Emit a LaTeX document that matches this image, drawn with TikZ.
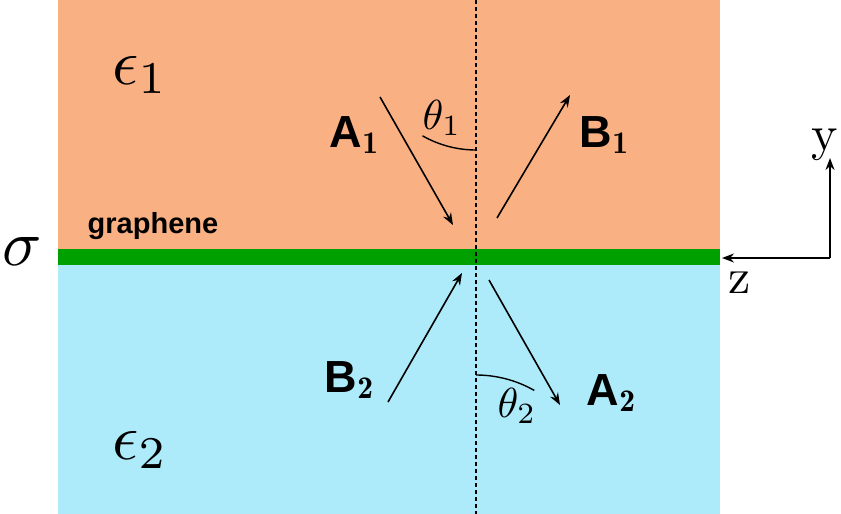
\documentclass[tikz,border=0pt]{standalone}
\usepackage{fontspec}
\usepackage{graphicx}
\newfontfamily\lab{Liberation Sans}
\usetikzlibrary{arrows.meta}
\definecolor{orng}{HTML}{F9B083}
\definecolor{lblue}{HTML}{ADEBFA}
\definecolor{grn}{HTML}{00A000}
\tikzset{ray/.style={line width=1.6pt,-{Stealth[length=12pt,width=9pt]}},
 lbl/.style={font=\lab\bfseries}}
\newcommand{\sbx}[2]{\scalebox{#1}{#2}}
\begin{document}
\begin{tikzpicture}[x=1pt,y=-1pt]
\useasboundingbox (0,0) rectangle (841,514);
\fill[orng] (58,0) rectangle (720,250);
\fill[lblue] (58,264) rectangle (720,514);
\fill[grn] (58,249) rectangle (720,265);
\draw[line width=1.4pt,dash pattern=on 4pt off 3pt] (476,0) -- (476,514);
\coordinate (a1s) at (380,97); \coordinate (a1e) at (453,225);
\coordinate (b1s) at (497,218); \coordinate (b1e) at (570,95);
\coordinate (b2s) at (388,402); \coordinate (b2e) at (462,273);
\coordinate (a2s) at (489,280); \coordinate (a2e) at (560,405);
\draw[ray] (a1s) -- (a1e);
\draw[ray] (b1s) -- (b1e);
\draw[ray] (b2s) -- (b2e);
\draw[ray] (a2s) -- (a2e);
\draw[line width=1.4pt] (476,150) arc (90:119.7:108);
\draw[line width=1.4pt] (476,375) arc (270:299.6:118);
\node (e1) at (140,75) {\sbx{6.5}{$\epsilon_1$}};
\node (e2) at (140,450) {\sbx{6.5}{$\epsilon_2$}};
\node (t1) at (442,118) {\sbx{4.2}{$\theta_1$}};
\node (t2) at (517,406) {\sbx{4.2}{$\theta_2$}};
\node[lbl] (A1) at (355,135) {\sbx{4.5}{A$_\mathbf{1}$}};
\node[lbl] (B1) at (605,135) {\sbx{4.5}{B$_\mathbf{1}$}};
\node[lbl] (B2) at (350,380) {\sbx{4.5}{B$_\mathbf{2}$}};
\node[lbl] (A2) at (612,393) {\sbx{4.5}{A$_\mathbf{2}$}};
\node[lbl] (g) at (153,226) {\sbx{2.9}{graphene}};
\node (s) at (22,252) {\sbx{6.5}{$\sigma$}};
\coordinate (o) at (830,258);
\coordinate (yt) at (830,158);
\coordinate (zt) at (722,258);
\draw[line width=1.6pt,-{Stealth[length=12pt,width=9pt]}] (o) -- (yt);
\draw[line width=1.6pt,-{Stealth[length=12pt,width=9pt]}] (o) -- (zt);
\node (y) at (825,145) {\sbx{5}{y}};
\node (z) at (740,283) {\sbx{5}{z}};
\end{tikzpicture}
\end{document}
